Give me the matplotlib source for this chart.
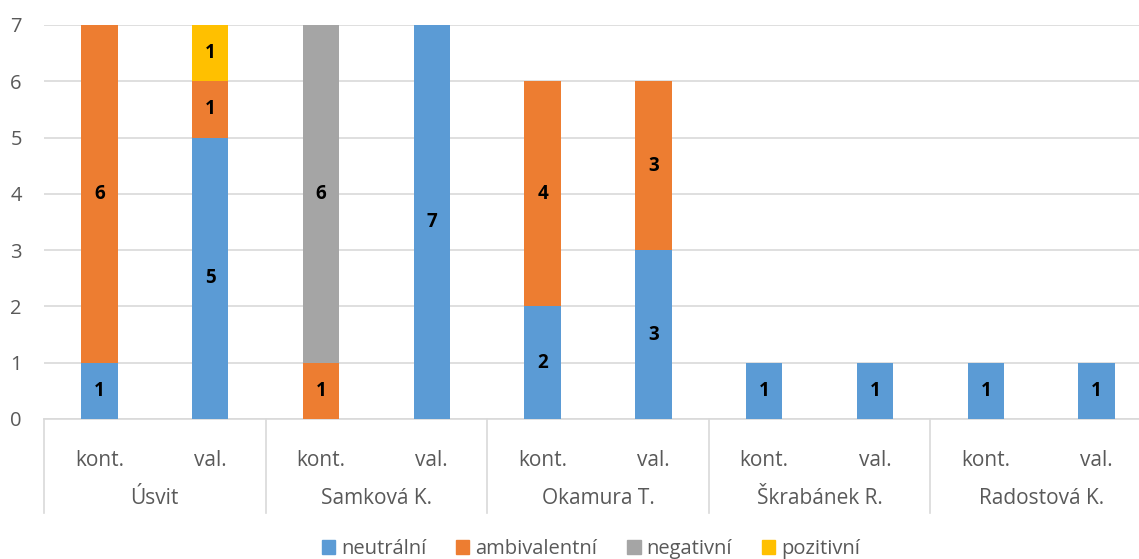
import numpy as np
import matplotlib
matplotlib.use("Agg")
import matplotlib.pyplot as plt
from matplotlib.patches import Patch
from matplotlib.lines import Line2D

groups = ["Úsvit", "Samková K.", "Okamura T.", "Škrabánek R.", "Radostová K."]
subs = ["kont.", "val."]
series = ["neutrální", "ambivalentní", "negativní", "pozitivní"]
neutralni = [1, 5, 0, 7, 2, 3, 1, 1, 1, 1]
ambivalentni = [6, 1, 1, 0, 4, 3, 0, 0, 0, 0]
negativni = [0, 0, 6, 0, 0, 0, 0, 0, 0, 0]
pozitivni = [0, 1, 0, 0, 0, 0, 0, 0, 0, 0]
colors = ["#5B9BD5", "#ED7D31", "#A5A5A5", "#FFC000"]

plt.rcParams['font.family'] = ['Open Sans', 'DejaVu Sans']
txt = "#595959"
grid = "#D9D9D9"

W, H = 1139, 559
fig = plt.figure(figsize=(W / 100, H / 100), dpi=100)
# plot area: x 44 .. ~1152 (runs past right edge), y 25 .. 419
ax = fig.add_axes([44 / W, (H - 419) / H, (1152 - 44) / W, (419 - 25) / H])

n = len(neutralni)
x = np.arange(n)
bottom = np.zeros(n)
for vals, c in zip([neutralni, ambivalentni, negativni, pozitivni], colors):
    vals = np.array(vals, dtype=float)
    ax.bar(x, vals, 0.33, bottom=bottom, color=c, zorder=3)
    for xi, v, b in zip(x, vals, bottom):
        if v > 0:
            ax.text(xi, b + v / 2, f"{int(v)}", ha="center", va="center",
                    fontsize=13.5, fontweight="bold", color="black", zorder=4)
    bottom += vals

ax.set_xlim(-0.5, n - 0.5)
ax.set_ylim(0, 7)
ax.set_yticks(range(8))
ax.tick_params(axis="y", length=0, labelsize=14.5, labelcolor=txt, pad=16)
ax.yaxis.grid(True, color=grid, lw=1.2, zorder=0)
ax.set_xticks([])
for s in ["left", "right", "top"]:
    ax.spines[s].set_visible(False)
ax.spines["bottom"].set_color(grid)
ax.spines["bottom"].set_linewidth(1.2)

tr = ax.get_xaxis_transform()
ph = 419 - 25
y_sub = -(460 - 419) / ph
y_grp = -(499 - 419) / ph
y_end = -(513 - 419) / ph
for i in range(n):
    ax.text(i, y_sub, subs[i % 2], transform=tr, ha="center", va="center",
            fontsize=15, color=txt)
for g, name in enumerate(groups):
    ax.text(2 * g + 0.5, y_grp, name, transform=tr, ha="center", va="center",
            fontsize=15, color=txt)
for g in range(len(groups) + 1):
    ax.add_line(Line2D([2 * g - 0.5] * 2, [0, y_end], transform=tr, color=grid,
                       lw=1.2, clip_on=False))

handles = [Patch(color=c) for c in colors]
fig.legend(handles, series, loc="center", bbox_to_anchor=(591 / W, (H - 549) / H),
           ncol=4, frameon=False, fontsize=14.5, labelcolor=txt,
           handlelength=0.65, handleheight=0.65, handletextpad=0.3, columnspacing=1.5)

fig.savefig("out.png", dpi=100)
